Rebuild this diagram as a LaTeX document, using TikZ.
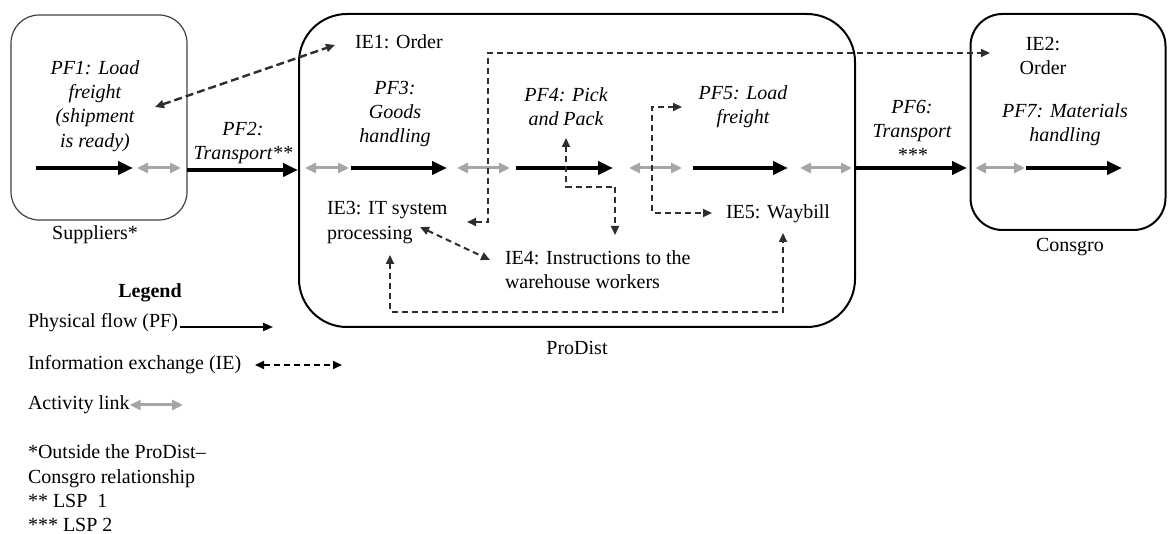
\documentclass[tikz,border=0pt]{standalone}
\usepackage{fontspec}
\setmainfont{Liberation Serif}
\usetikzlibrary{arrows.meta}
\definecolor{lgray}{HTML}{A6A6A6}
\definecolor{dgray}{HTML}{2E2E2E}
\definecolor{bgray}{HTML}{404040}
\begin{document}
\begin{tikzpicture}[x=1pt,y=-1pt,
  every node/.style={font=\fontsize{20}{24.3}\selectfont, inner sep=0pt, outer sep=0pt},
  pfarrow/.style={line width=4.5pt, -{Triangle[length=15pt,width=13pt]}},
  legpf/.style={line width=1.8pt, -{Triangle[length=10pt,width=8pt]}},
  actlink/.style={line width=3pt, lgray, {Triangle[length=11pt,width=10pt]}-{Triangle[length=11pt,width=10pt]}},
  ieline/.style={line width=2pt, dgray, dash pattern=on 6pt off 4pt, {Triangle[length=9pt,width=8pt]}-{Triangle[length=9pt,width=8pt]}},
  pftext/.style={align=center, font=\fontsize{20}{24.3}\selectfont\itshape},
  ietext/.style={align=center},
  ietextl/.style={align=left, anchor=west}
]
\useasboundingbox (0,0) rectangle (1168,534);

% containers
\node[draw=bgray, line width=1.2pt, rounded corners=28pt, minimum width=176pt, minimum height=205pt] (sup) at (99,117.5) {};
\node[draw, line width=2pt, rounded corners=48pt, minimum width=556pt, minimum height=313pt] (pro) at (577,170.5) {};
\node[draw, line width=2pt, rounded corners=32pt, minimum width=195pt, minimum height=216pt] (con) at (1068,122) {};

\node (supl) at (95,235) {Suppliers*};
\node (prol) at (577,348) {ProDist};
\node (conl) at (1070,247) {Consgro};

% physical flow texts
\node[pftext] (pf1t) at (95,106) {PF1: Load\\freight\\(shipment\\is ready)};
\node[pftext] (pf2t) at (243,143) {PF2:\\Transport**};
\node[pftext] (pf3t) at (395,114) {PF3:\\Goods\\handling};
\node[pftext] (pf4t) at (566,107) {PF4: Pick\\and Pack};
\node[pftext] (pf5t) at (743,107) {PF5: Load\\freight};
\node[pftext] (pf6t) at (912,131) {PF6:\\Transport\\***};
\node[pftext] (pf7t) at (1065,125) {PF7: Materials\\handling};

% information exchange texts
\node[anchor=west] (ie1) at (355,42) {IE1: Order};
\node[ietext] (ie2) at (1043,56) {IE2:\\Order};
\node[ietextl] (ie3) at (327,222.5) {IE3: IT system\\processing};
\node[ietextl] (ie4) at (505,270) {IE4: Instructions to the\\warehouse workers};
\node[anchor=west] (ie5) at (726,214) {IE5: Waybill};

% coordinates of flows
\coordinate (p1a) at (36,168);   \coordinate (p1b) at (133,168);
\coordinate (a1a) at (137,168);  \coordinate (a1b) at (181,168);
\coordinate (p2a) at (187,170);  \coordinate (p2b) at (298,170);
\coordinate (a2a) at (305,168);  \coordinate (a2b) at (349,168);
\coordinate (p3a) at (351,168);  \coordinate (p3b) at (447,168);
\coordinate (a3a) at (457,168);  \coordinate (a3b) at (510,168);
\coordinate (p4a) at (516,168);  \coordinate (p4b) at (613,168);
\coordinate (a4a) at (629,168);  \coordinate (a4b) at (682,168);
\coordinate (p5a) at (693,168);  \coordinate (p5b) at (788,168);
\coordinate (a5a) at (800,168);  \coordinate (a5b) at (852,168);
\coordinate (p6a) at (855,168);  \coordinate (p6b) at (967,168);
\coordinate (a6a) at (975,168);  \coordinate (a6b) at (1025,168);
\coordinate (p7a) at (1026,168); \coordinate (p7b) at (1122,168);

\draw[pfarrow] (p1a) -- (p1b);
\draw[actlink] (a1a) -- (a1b);
\draw[pfarrow] (p2a) -- (p2b);
\draw[actlink] (a2a) -- (a2b);
\draw[pfarrow] (p3a) -- (p3b);
\draw[actlink] (a3a) -- (a3b);
\draw[pfarrow] (p4a) -- (p4b);
\draw[actlink] (a4a) -- (a4b);
\draw[pfarrow] (p5a) -- (p5b);
\draw[actlink] (a5a) -- (a5b);
\draw[pfarrow] (p6a) -- (p6b);
\draw[actlink] (a6a) -- (a6b);
\draw[pfarrow] (p7a) -- (p7b);

% information exchanges
\coordinate (i1a) at (155,107); \coordinate (i1b) at (335,45);
\draw[ieline, line width=2.4pt, dash pattern=on 8pt off 4pt] (i1a) -- (i1b);

\coordinate (i2a) at (467,222); \coordinate (i2b) at (990,53);
\draw[ieline] (i2a) -- (488,222) -- (488,53) -- (i2b);

\coordinate (i4a) at (566,138); \coordinate (i4b) at (615,235);
\draw[ieline] (i4a) -- (566,187) -- (615,187) -- (i4b);

\coordinate (i5a) at (682,107); \coordinate (i5b) at (712,213);
\draw[ieline] (i5a) -- (652,107) -- (652,213) -- (i5b);

\coordinate (i34a) at (420,227); \coordinate (i34b) at (490,260);
\draw[ieline] (i34a) -- (i34b);

\coordinate (i35a) at (390,255); \coordinate (i35b) at (783,233);
\draw[ieline] (i35a) -- (390,312) -- (783,312) -- (i35b);

% legend
\node[font=\fontsize{20}{24.3}\selectfont\bfseries] (leg) at (150,293) {Legend};
\node[anchor=west] (lpf) at (28,323) {Physical flow (PF)};
\node[anchor=west] (lie) at (28,365) {Information exchange (IE)};
\node[anchor=west] (lal) at (28,405) {Activity link};
\coordinate (lpfe) at (273,327);
\coordinate (lies) at (255,365); \coordinate (liee) at (342,365);
\coordinate (lale) at (183,405);
\draw[legpf] (lpf.east) ++(2,4) -- (lpfe);
\draw[ieline, black] (lies) -- (liee);
\draw[actlink] (lal.east) -- (lale);
\node[align=left, anchor=west] (notes) at (28,488.5) {*Outside the ProDist--\\Consgro relationship\\** LSP\ \ 1\\*** LSP 2};
\end{tikzpicture}
\end{document}
